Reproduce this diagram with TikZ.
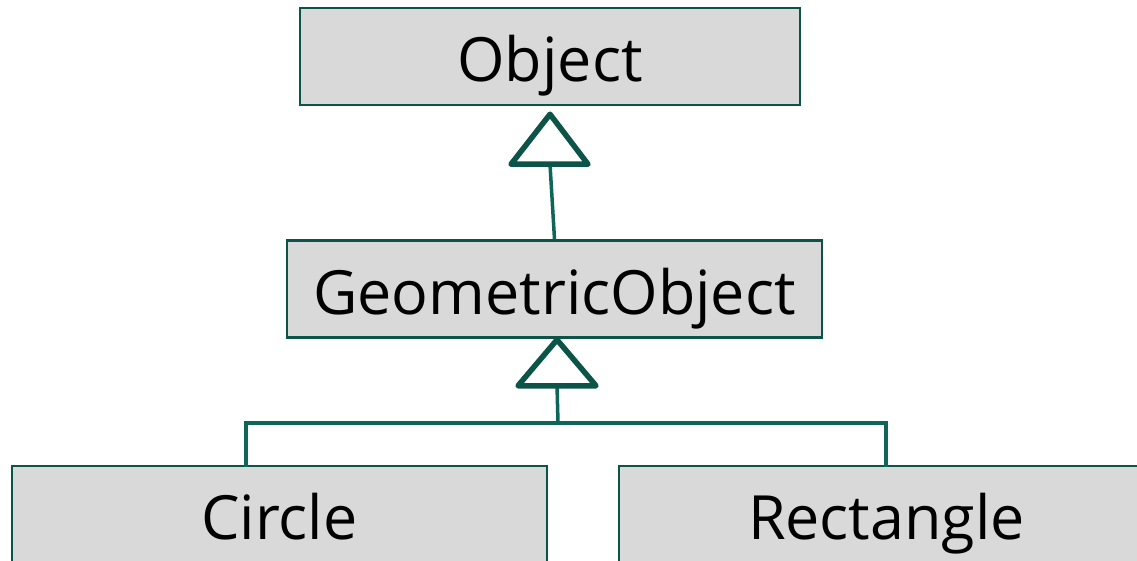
\documentclass[tikz,border=0pt]{standalone}
\usepackage{fontspec}
\setmainfont{Open Sans}
\definecolor{boxedge}{RGB}{12,84,72}
\definecolor{linkc}{RGB}{14,102,88}
\definecolor{boxfill}{RGB}{217,217,217}
\begin{document}
\begin{tikzpicture}[x=1pt,y=-1pt,
  cls/.style={draw=boxedge,fill=boxfill,line width=2.5pt,inner sep=0pt,
    minimum height=97pt,text height=50pt,text depth=0pt,
    font=\fontsize{61}{61}\selectfont,text=black},
  link/.style={draw=linkc,line width=3.5pt},
  tri/.style={draw=boxedge,line width=5.5pt,line join=round,fill=white}]
\useasboundingbox (0,0) rectangle (1137,561);
\clip (0,0) rectangle (1137,561);
\node[cls,minimum width=500pt] (obj) at (550,56.5) {Object};
\node[cls,minimum width=535pt] (geo) at (554.5,289) {GeometricObject};
\node[cls,minimum width=535pt] (cir) at (279.5,514.5) {Circle};
\node[cls,minimum width=535pt] (rec) at (886.5,514.5) {Rectangle};
% Object <- GeometricObject
\coordinate (t1a) at ([yshift=-8]obj.south);
\coordinate (t1b) at ([yshift=-58]obj.south);
\draw[link] (geo.north) -- (t1b);
\draw[tri] (t1a) -- ([xshift=-39]t1b) -- ([xshift=38]t1b) -- cycle;
% GeometricObject <- Circle, Rectangle
\coordinate (t2a) at ([xshift=2.5,yshift=-1]geo.south);
\coordinate (t2b) at ([xshift=2.5,yshift=-47]geo.south);
\coordinate (bus) at ([xshift=3.5,yshift=-84]geo.south);
\draw[link] (t2b) -- (bus);
\draw[link,line cap=rect] (cir.north -| 246,0) |- (bus) -| (rec.north -| 886,0);
\draw[tri] (t2a) -- ([xshift=-39]t2b) -- ([xshift=39]t2b) -- cycle;
\end{tikzpicture}
\end{document}
